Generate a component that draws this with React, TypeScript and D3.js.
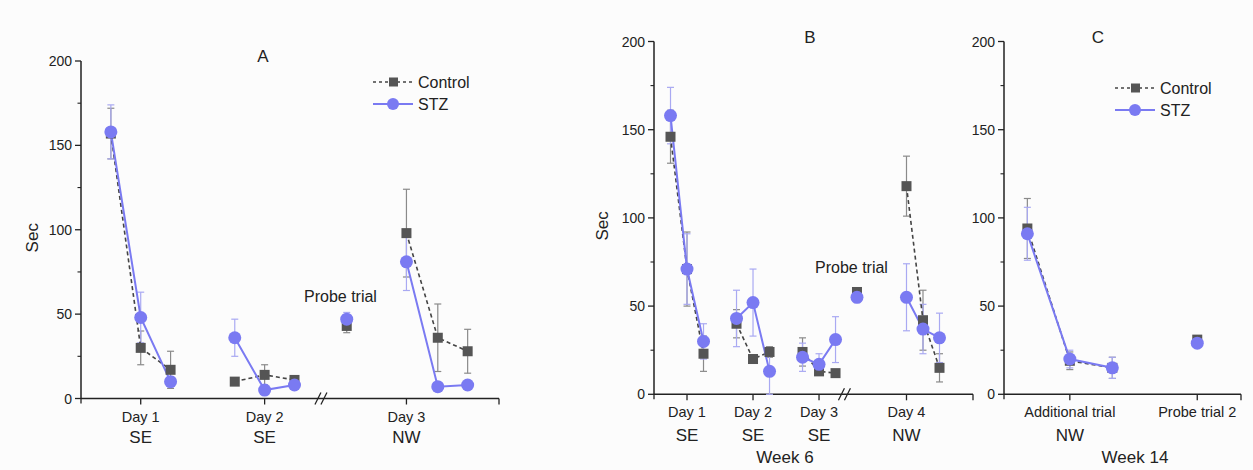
import React from "react";
import * as d3 from "d3";

// ---- Panel A (training days + probe) ----
const posA = [1, 2, 3, 5.15, 6.15, 7.15, 8.9, 10.9, 11.95, 12.95];
const groupsA = [[0, 1, 2], [3, 4, 5], [6], [7, 8, 9]];
const ctrlA = [157, 30, 17, 10, 14, 11, 43, 98, 36, 28];
const ctrlErrA = [15, 10, 11, 2, 6, 2, 4, 26, 20, 13];
const stzA = [158, 48, 10, 36, 5, 8, 47, 81, 7, 8];
const stzErrA = [16, 15, 3, 11, 2, 2, 4, 17, 1, 1];
const ticksA = [2, 6.15, 10.9];
const tickLabelsA = ["Day 1", "Day 2", "Day 3"];
const subLabelsA = ["SE", "SE", "NW"];

// ---- Panel B (week 6) ----
const posB = [1, 2, 3, 5, 6, 7, 9, 10, 11, 12.3, 15.3, 16.3, 17.3];
const groupsB = [[0, 1, 2], [3, 4, 5], [6, 7, 8], [9], [10, 11, 12]];
const ctrlB = [146, 71, 23, 40, 20, 24, 24, 13, 12, 58, 118, 42, 15];
const ctrlErrB = [15, 21, 10, 8, 2, 3, 8, 2, 2, 2, 17, 17, 8];
const stzB = [158, 71, 30, 43, 52, 13, 21, 17, 31, 55, 55, 37, 32];
const stzErrB = [16, 20, 10, 16, 19, 13, 8, 6, 13, 3, 19, 14, 14];
const ticksB = [2, 6, 10, 15.3];
const tickLabelsB = ["Day 1", "Day 2", "Day 3", "Day 4"];
const subLabelsB = ["SE", "SE", "SE", "NW"];

// ---- Panel C (week 14) ----
const posC = [0.55, 1.55, 2.55, 4.55];
const groupsC = [[0, 1, 2], [3]];
const ctrlC = [94, 19, 15, 31];
const ctrlErrC = [17, 5, 6, 1];
const stzC = [91, 20, 15, 29];
const stzErrC = [15, 5, 6, 1];
const ticksC = [1.55, 4.55];
const tickLabelsC = ["Additional trial", "Probe trial 2"];
const subLabelsC = ["NW", ""];

const yTicks = [0, 50, 100, 150, 200];
const yMinor = [25, 75, 125, 175];

const CTRL = "#555555";
const CTRL_LINE = "#444444";
const CTRL_ERR = "#8a8a8a";
const STZ = "#7a7af2";
const STZ_ERR = "#a9a9f2";
const FONT = "'Liberation Sans', Arial, sans-serif";

type PanelProps = {
  title: string;
  titleX: number;
  left: number;
  right: number;
  top: number;
  bottom: number;
  xMax: number;
  pos: number[];
  groups: number[][];
  ctrl: number[];
  ctrlErr: number[];
  stz: number[];
  stzErr: number[];
  ticks: number[];
  tickLabels: string[];
  subLabels: string[];
  breakAt?: number;
  probe?: { x: number; y: number };
  legend?: { x: number; y: number };
  week?: { x: number; text: string };
  subY: number;
  secX?: number;
};

function ErrorBar({ x, y0, y1, color }: { x: number; y0: number; y1: number; color: string }) {
  const cap = 3.5;
  return (
    <g stroke={color} strokeWidth={1.2}>
      <line x1={x} x2={x} y1={y0} y2={y1} />
      <line x1={x - cap} x2={x + cap} y1={y0} y2={y0} />
      <line x1={x - cap} x2={x + cap} y1={y1} y2={y1} />
    </g>
  );
}

function Panel(p: PanelProps) {
  const x = d3.scaleLinear().domain([0, p.xMax]).range([p.left, p.right]);
  const y = d3.scaleLinear().domain([0, 200]).range([p.bottom, p.top]);

  const path = (vals: number[], g: number[]) =>
    d3
      .line<number>()
      .x((i) => x(p.pos[i]))
      .y((i) => y(vals[i]))(g) || "";

  return (
    <g fontFamily={FONT}>
      {/* y axis */}
      <line x1={p.left} x2={p.left} y1={y(0)} y2={y(200)} stroke="#222" strokeWidth={1.5} />
      {yTicks.map((t) => (
        <g key={t}>
          <line x1={p.left - 6} x2={p.left} y1={y(t)} y2={y(t)} stroke="#222" strokeWidth={1.3} />
          <text x={p.left - 9} y={y(t) + 5} textAnchor="end" fontSize={14} fill="#222">
            {t}
          </text>
        </g>
      ))}
      {yMinor.map((t) => (
        <line key={t} x1={p.left - 3.5} x2={p.left} y1={y(t)} y2={y(t)} stroke="#222" strokeWidth={1.1} />
      ))}
      {p.secX !== undefined && (
        <text
          transform={`translate(${p.secX},${(y(0) + y(200)) / 2 + 8}) rotate(-90)`}
          textAnchor="middle"
          fontSize={17}
          fill="#222"
        >
          Sec
        </text>
      )}

      {/* x axis */}
      <line x1={p.left} x2={p.right} y1={y(0)} y2={y(0)} stroke="#222" strokeWidth={1.5} />
      <line x1={p.left} x2={p.left} y1={y(0)} y2={y(0) + 5} stroke="#222" strokeWidth={1.3} />
      <line x1={p.right} x2={p.right} y1={y(0)} y2={y(0) + 6} stroke="#222" strokeWidth={1.3} />
      {p.ticks.map((t, i) => (
        <g key={i}>
          <line x1={x(t)} x2={x(t)} y1={y(0)} y2={y(0) + 6} stroke="#222" strokeWidth={1.3} />
          <text x={x(t)} y={y(0) + 23} textAnchor="middle" fontSize={14.5} fill="#222">
            {p.tickLabels[i]}
          </text>
          {p.subLabels[i] && (
            <text x={x(t)} y={p.subY} textAnchor="middle" fontSize={17} fill="#222">
              {p.subLabels[i]}
            </text>
          )}
        </g>
      ))}
      {p.breakAt !== undefined && (
        <g stroke="#222" strokeWidth={1.3}>
          <line x1={x(p.breakAt) - 7} x2={x(p.breakAt) - 1} y1={y(0) + 6} y2={y(0) - 6} />
          <line x1={x(p.breakAt) - 1} x2={x(p.breakAt) + 5} y1={y(0) + 6} y2={y(0) - 6} />
        </g>
      )}

      {/* title */}
      <text x={p.titleX} y={p.top + 1} textAnchor="middle" fontSize={17} fill="#222">
        {p.title}
      </text>
      {p.probe && (
        <text x={p.probe.x} y={p.probe.y} fontSize={16} fill="#222">
          Probe trial
        </text>
      )}
      {p.week && (
        <text x={p.week.x} y={463} textAnchor="middle" fontSize={17} fill="#222">
          {p.week.text}
        </text>
      )}

      {/* error bars */}
      {p.ctrl.map((v, i) => (
        <ErrorBar key={"ce" + i} x={x(p.pos[i])} y0={y(v + p.ctrlErr[i])} y1={y(Math.max(0, v - p.ctrlErr[i]))} color={CTRL_ERR} />
      ))}
      {p.stz.map((v, i) => (
        <ErrorBar key={"se" + i} x={x(p.pos[i])} y0={y(v + p.stzErr[i])} y1={y(Math.max(0, v - p.stzErr[i]))} color={STZ_ERR} />
      ))}

      {/* lines */}
      {p.groups.map((g, gi) => (
        <path key={"cl" + gi} d={path(p.ctrl, g)} fill="none" stroke={CTRL_LINE} strokeWidth={1.6} strokeDasharray="4,3" />
      ))}
      {p.groups.map((g, gi) => (
        <path key={"sl" + gi} d={path(p.stz, g)} fill="none" stroke={STZ} strokeWidth={2} />
      ))}

      {/* markers */}
      {p.ctrl.map((v, i) => (
        <rect key={"cm" + i} x={x(p.pos[i]) - 5} y={y(v) - 5} width={10} height={10} fill={CTRL} />
      ))}
      {p.stz.map((v, i) => (
        <circle key={"sm" + i} cx={x(p.pos[i])} cy={y(v)} r={6.5} fill={STZ} />
      ))}

      {/* legend */}
      {p.legend && (
        <g>
          <line x1={p.legend.x} x2={p.legend.x + 40} y1={p.legend.y} y2={p.legend.y} stroke={CTRL_LINE} strokeWidth={1.5} strokeDasharray="3,3" />
          <rect x={p.legend.x + 16} y={p.legend.y - 4.5} width={9} height={9} fill={CTRL} />
          <text x={p.legend.x + 45} y={p.legend.y + 6} fontSize={16} fill="#222">
            Control
          </text>
          <line x1={p.legend.x} x2={p.legend.x + 40} y1={p.legend.y + 22} y2={p.legend.y + 22} stroke={STZ} strokeWidth={2} />
          <circle cx={p.legend.x + 20} cy={p.legend.y + 22} r={6} fill={STZ} />
          <text x={p.legend.x + 45} y={p.legend.y + 28} fontSize={16} fill="#222">
            STZ
          </text>
        </g>
      )}
    </g>
  );
}

export default function App() {
  return (
    <svg
      width={1253}
      height={470}
      style={{ position: "absolute", left: 0, top: 0, background: "#fcfcfc" }}
    >
      <rect width={1253} height={470} fill="#fcfcfc" />
      <Panel
        title="A"
        titleX={263}
        left={81}
        right={499}
        top={61}
        bottom={398.5}
        xMax={14}
        pos={posA}
        groups={groupsA}
        ctrl={ctrlA}
        ctrlErr={ctrlErrA}
        stz={stzA}
        stzErr={stzErrA}
        ticks={ticksA}
        tickLabels={tickLabelsA}
        subLabels={subLabelsA}
        breakAt={8.07}
        probe={{ x: 304, y: 302 }}
        legend={{ x: 373, y: 82 }}
        subY={443}
        secX={38}
      />
      <Panel
        title="B"
        titleX={810}
        left={654}
        right={973}
        top={41.5}
        bottom={394.3}
        xMax={19.33}
        pos={posB}
        groups={groupsB}
        ctrl={ctrlB}
        ctrlErr={ctrlErrB}
        stz={stzB}
        stzErr={stzErrB}
        ticks={ticksB}
        tickLabels={tickLabelsB}
        subLabels={subLabelsB}
        breakAt={11.6}
        probe={{ x: 815, y: 273 }}
        week={{ x: 785, text: "Week 6" }}
        subY={441}
        secX={608}
      />
      <Panel
        title="C"
        titleX={1098}
        left={1004}
        right={1241}
        top={41.5}
        bottom={394.3}
        xMax={5.58}
        pos={posC}
        groups={groupsC}
        ctrl={ctrlC}
        ctrlErr={ctrlErrC}
        stz={stzC}
        stzErr={stzErrC}
        ticks={ticksC}
        tickLabels={tickLabelsC}
        subLabels={subLabelsC}
        legend={{ x: 1115, y: 88 }}
        week={{ x: 1135, text: "Week 14" }}
        subY={441}
      />
    </svg>
  );
}
